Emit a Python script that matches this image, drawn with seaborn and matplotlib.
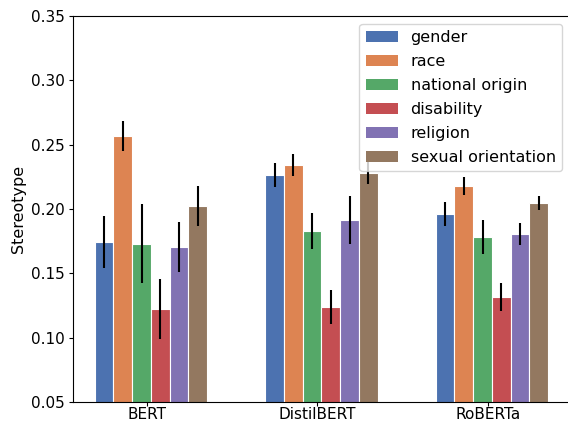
import numpy as np
import pandas as pd
import matplotlib
matplotlib.use("Agg")
import matplotlib.pyplot as plt
import seaborn as sns

# Mean stereotype score per model and bias category, with error half-widths
models = ["BERT", "DistilBERT", "RoBERTa"]
biases = ["gender", "race", "national origin", "disability", "religion",
          "sexual orientation"]

bert_scores = [0.1744, 0.2567, 0.1728, 0.1223, 0.1705, 0.2023]
distilbert_scores = [0.2264, 0.2342, 0.1829, 0.1238, 0.1915, 0.2282]
roberta_scores = [0.1961, 0.2179, 0.1782, 0.1316, 0.1806, 0.2047]

bert_err = [0.0202, 0.0118, 0.0307, 0.0230, 0.0191, 0.0157]
distilbert_err = [0.0092, 0.0084, 0.0143, 0.0134, 0.0185, 0.0086]
roberta_err = [0.0097, 0.0073, 0.0130, 0.0105, 0.0083, 0.0057]

yticks = [0.05, 0.10, 0.15, 0.20, 0.25, 0.30, 0.35]

scores = [bert_scores, distilbert_scores, roberta_scores]
errors = [bert_err, distilbert_err, roberta_err]
df = pd.DataFrame({
    "model": np.repeat(models, len(biases)),
    "bias": biases * len(models),
    "score": np.concatenate(scores),
    "err": np.concatenate(errors),
})

fig = plt.figure(figsize=(5.68, 4.23), dpi=100)
ax = fig.add_axes([73 / 568, 21 / 423, 497 / 568, 386 / 423])

sns.barplot(data=df, x="model", y="score", hue="bias", hue_order=biases,
            order=models, palette="deep", width=0.66, errorbar=None,
            edgecolor="white", linewidth=0.8, saturation=1, ax=ax)

# Error bars centred on each drawn bar
for bias, container in zip(biases, ax.containers):
    sub = df[df["bias"] == bias].set_index("model").loc[models]
    xs = [b.get_x() + b.get_width() / 2 for b in container]
    ax.errorbar(xs, sub["score"].values, yerr=sub["err"].values, fmt="none",
                ecolor="black", elinewidth=1.5, capsize=0, zorder=3)

ax.set_ylim(0.05, 0.35)
ax.set_yticks(yticks)
ax.set_yticklabels([f"{t:.2f}" for t in yticks])
ax.set_xlim(-0.457, 2.458)
ax.set_xticks(np.arange(len(models)) - 0.025)
ax.set_xticklabels(models)
ax.tick_params(axis="y", labelsize=11, length=3.2, pad=2.5)
ax.tick_params(axis="x", labelsize=11, length=2.6, pad=1.2)
ax.set_xlabel("")
ax.set_ylabel("Stereotype", fontsize=11.5, labelpad=4)

leg = ax.legend(loc="upper right", fontsize=11.5, labelspacing=0.56)
for handle in leg.legend_handles:
    handle.set_linewidth(0)

fig.savefig("out.png", dpi=100)
